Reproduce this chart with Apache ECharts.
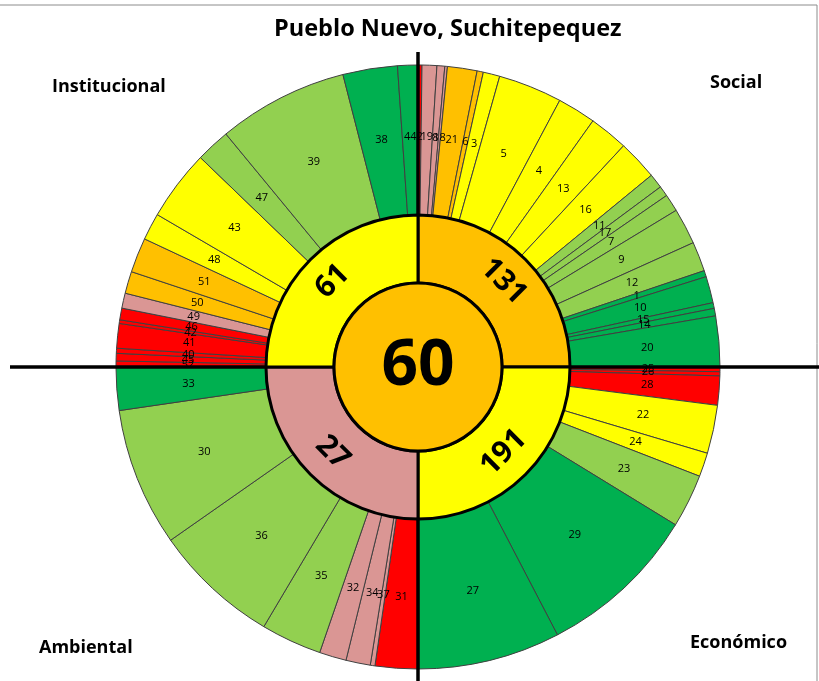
<!DOCTYPE html>
<html>
<head>
<meta charset="utf-8">
<script src="https://cdn.jsdelivr.net/npm/echarts@6/dist/echarts.min.js"></script>
<style>
  html, body { margin: 0; padding: 0; background: #fff; }
  #main { width: 819px; height: 681px; }
</style>
</head>
<body>
<div id="main"></div>
<script>
// dimensions (clockwise from the top)
const dimNames = ['Social', 'Económico', 'Ambiental', 'Institucional'];
const dimScores = [131, 191, 27, 61];
const dimLevels = [3, 4, 2, 4];
const totalScore = 60;
const totalLevel = 3;

// indicators per dimension: id, angular share (degrees of the 90 each quadrant has), level 1..6
const socialIds = [2, 19, 8, 18, 21, 6, 3, 5, 4, 13, 16, 11, 17, 7, 9, 12, 1, 10, 15, 14, 20];
const socialShare = [0.76, 2.84, 1.5, 0.5, 5.7, 1.2, 3.2, 12.3, 7.4, 7.5, 7.7, 2.8, 2.0, 3.35, 6.95, 5.7, 1.2, 5.1, 1.1, 1.45, 9.75];
const socialLevel = [1, 2, 2, 2, 3, 3, 4, 4, 4, 4, 4, 5, 5, 5, 5, 5, 6, 6, 6, 6, 6];

const economicoIds = [25, 26, 28, 22, 24, 23, 29, 27];
const economicoShare = [0.9, 0.8, 5.6, 9.3, 4.6, 10.3, 31.0, 27.5];
const economicoLevel = [1, 1, 1, 4, 4, 5, 6, 6];

const ambientalIds = [31, 37, 34, 32, 35, 36, 30, 33];
const ambientalShare = [8.2, 0.9, 4.7, 5.2, 11.7, 24.3, 26.7, 8.3];
const ambientalLevel = [1, 2, 2, 2, 5, 5, 5, 6];

const institucionalIds = [52, 45, 40, 41, 42, 46, 49, 50, 51, 48, 43, 47, 39, 38, 44];
const institucionalShare = [1.15, 1.45, 0.97, 4.73, 0.7, 2.25, 2.9, 4.25, 6.7, 5.2, 13.6, 6.6, 25.1, 10.5, 3.9];
const institucionalLevel = [1, 1, 1, 1, 1, 1, 2, 3, 3, 4, 4, 5, 5, 6, 6];

// colour per level: rojo, rosa, naranja, amarillo, verde claro, verde
const levelColors = ['#FF0000', '#DA9694', '#FFC000', '#FFFF00', '#92D050', '#00B050'];

const C = [418, 367];
const FONT = '"Open Sans", Lato, sans-serif';

function buildOuter() {
    const groups = [
        [socialIds, socialShare, socialLevel],
        [economicoIds, economicoShare, economicoLevel],
        [ambientalIds, ambientalShare, ambientalLevel],
        [institucionalIds, institucionalShare, institucionalLevel]
    ];
    const out = [];
    groups.forEach(function (g) {
        g[0].forEach(function (id, i) {
            out.push({
                name: String(id),
                value: g[1][i],
                itemStyle: { color: levelColors[g[2][i] - 1] }
            });
        });
    });
    return out;
}

const chart = echarts.init(document.getElementById('main'));
chart.setOption({
    animation: false,
    backgroundColor: '#fff',
    title: [
        { text: 'Pueblo Nuevo, Suchitepequez', left: 269, top: 12,
          textStyle: { fontFamily: FONT, fontSize: 23.5, fontWeight: 'bold', color: '#000' } },
        { text: 'Institucional', left: 47, top: 73,
          textStyle: { fontFamily: FONT, fontSize: 18, fontWeight: 'bold', color: '#000' } },
        { text: 'Social', left: 705, top: 69,
          textStyle: { fontFamily: FONT, fontSize: 18, fontWeight: 'bold', color: '#000' } },
        { text: 'Ambiental', left: 34, top: 634,
          textStyle: { fontFamily: FONT, fontSize: 18, fontWeight: 'bold', color: '#000' } },
        { text: 'Económico', left: 685, top: 629,
          textStyle: { fontFamily: FONT, fontSize: 18, fontWeight: 'bold', color: '#000' } }
    ],
    graphic: [
        { type: 'rect', z: 0, silent: true,
          shape: { x: -2, y: 5, width: 819, height: 690 },
          style: { fill: 'none', stroke: '#8c8c8c', lineWidth: 1 } },
        { type: 'line', z: 5, silent: true,
          shape: { x1: C[0], y1: 52, x2: C[0], y2: 681 },
          style: { stroke: '#000', lineWidth: 3.5 } },
        { type: 'line', z: 5, silent: true,
          shape: { x1: 10, y1: C[1], x2: 819, y2: C[1] },
          style: { stroke: '#000', lineWidth: 3.5 } }
    ],
    series: [
        {
            // anillo exterior: indicadores
            type: 'pie', z: 1, center: C, radius: [152, 302],
            startAngle: 90, clockwise: true, sort: null, avoidLabelOverlap: false,
            minShowLabelAngle: 0,
            labelLayout: { hideOverlap: false },
            label: { show: true, position: 'inside', formatter: '{b}',
                     fontFamily: FONT, fontSize: 11, color: '#000' },
            labelLine: { show: false },
            itemStyle: { borderColor: '#404040', borderWidth: 1 },
            emphasis: { disabled: true },
            data: buildOuter()
        },
        {
            // anillo interior: dimensiones
            type: 'pie', z: 10, center: C, radius: [84, 152],
            startAngle: 90, clockwise: true,
            labelLayout: { hideOverlap: false },
            label: { show: true, position: 'inside', formatter: function (p) { return dimScores[p.dataIndex]; },
                     rotate: 'tangential', fontFamily: FONT, fontSize: 30, fontWeight: 'bold', color: '#000' },
            labelLine: { show: false },
            itemStyle: { borderColor: '#000', borderWidth: 3 },
            emphasis: { disabled: true },
            data: dimNames.map(function (n, i) {
                return { name: n, value: 90, itemStyle: { color: levelColors[dimLevels[i] - 1] } };
            })
        },
        {
            // centro: indice general
            type: 'pie', z: 11, center: C, radius: [0, 84],
            label: { show: true, position: 'center', formatter: String(totalScore),
                     fontFamily: FONT, fontSize: 64, fontWeight: 'bold', color: '#000' },
            labelLine: { show: false },
            itemStyle: { borderColor: '#000', borderWidth: 3 },
            emphasis: { disabled: true },
            data: [{ name: 'General', value: totalScore, itemStyle: { color: levelColors[totalLevel - 1] } }]
        }
    ]
});
</script>
</body>
</html>
